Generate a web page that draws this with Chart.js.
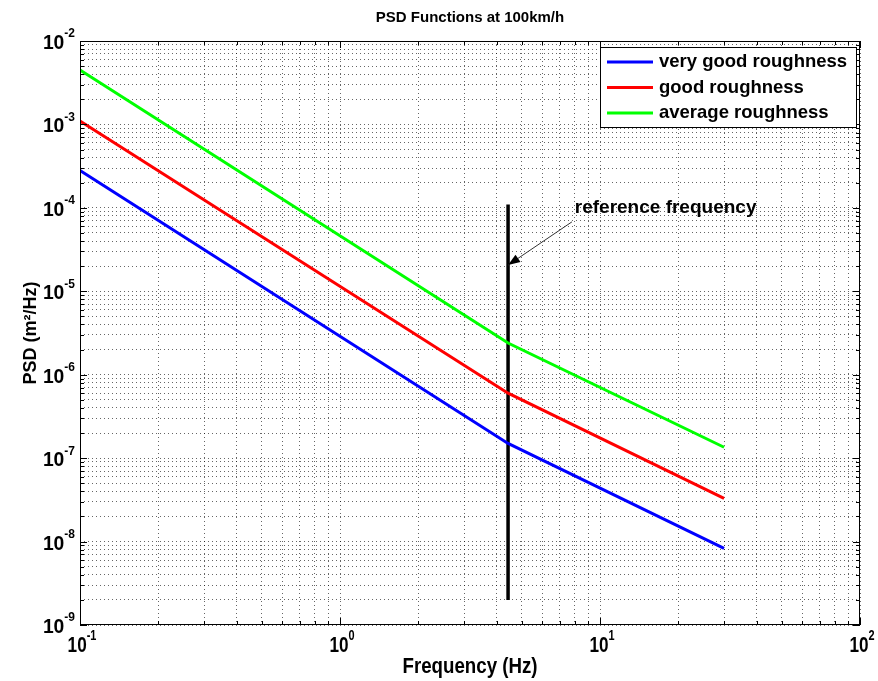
<!DOCTYPE html>
<html>
<head>
<meta charset="utf-8">
<script src="https://cdn.jsdelivr.net/npm/chart.js@4"></script>
<style>
  html, body { margin: 0; padding: 0; background: #fff; }
  #wrap { width: 878px; height: 681px; }
</style>
</head>
<body>
<div id="wrap"><canvas id="psdChart" width="878" height="681"></canvas></div>
<script>
// values
const freqs = [0.1, 4.43, 30];
const veryGood = [2.8e-4, 1.5e-7, 8.3e-9];
const good = [1.1e-3, 6.0e-7, 3.3e-8];
const average = [4.5e-3, 2.4e-6, 1.35e-7];

const seriesNames = ['very good roughness', 'good roughness', 'average roughness'];
const seriesColors = ['#0000ff', '#ff0000', '#00ff00'];

const refFreq = 4.43;
const refLineY = [2e-9, 1.1e-4];
const refLabel = 'reference frequency';
const arrowTip = [4.43, 2.06e-5];
const arrowTail = [7.8, 6.8e-5];
const refLabelPos = [8.0, 1.0e-4];

const xDecades = [-1, 0, 1, 2];
const yDecades = [-9, -8, -7, -6, -5, -4, -3, -2];

const chartTitle = 'PSD Functions at 100km/h';
const xTitle = 'Frequency (Hz)';
const yTitle = 'PSD (m²/Hz)';

const FONT = '"Liberation Sans", Arial, Helvetica, sans-serif';

function toPoints(xs, ys) {
    return xs.map((x, i) => ({ x: x, y: ys[i] }));
}

function logTicks(decades) {
    const ticks = [];
    decades.forEach((d, i) => {
        const base = Math.pow(10, d);
        if (i === decades.length - 1) {
            ticks.push({ value: base, major: true });
            return;
        }
        for (let m = 1; m <= 9; m++) {
            ticks.push({ value: m * base, major: m === 1 });
        }
    });
    return ticks;
}

// draws "10" with a raised exponent
function drawPower(ctx, exp, x, y, align, baseSize, expSize, squeeze) {
    const expText = String(exp);
    ctx.save();
    ctx.font = 'bold ' + baseSize + 'px ' + FONT;
    const baseW = ctx.measureText('10').width * squeeze;
    ctx.font = 'bold ' + expSize + 'px ' + FONT;
    const expW = ctx.measureText(expText).width * squeeze;
    const total = baseW + expW;
    let left = x;
    if (align === 'right') left = x - total;
    if (align === 'center') left = x - total / 2;
    ctx.fillStyle = '#000';
    ctx.textAlign = 'left';
    ctx.textBaseline = 'alphabetic';
    ctx.translate(left, y);
    ctx.scale(squeeze, 1);
    ctx.font = 'bold ' + baseSize + 'px ' + FONT;
    ctx.fillText('10', 0, 0);
    ctx.font = 'bold ' + expSize + 'px ' + FONT;
    ctx.fillText(expText, baseW / squeeze, -baseSize * 0.55);
    ctx.restore();
}

const decorations = {
    id: 'decorations',
    beforeDraw(chart) {
        const ctx = chart.ctx;
        ctx.save();
        ctx.fillStyle = '#fff';
        ctx.fillRect(0, 0, chart.width, chart.height);
        ctx.restore();
    },
    afterDraw(chart) {
        const ctx = chart.ctx;
        const area = chart.chartArea;
        const xs = chart.scales.x;
        const ys = chart.scales.y;

        // box + inward ticks on all sides
        ctx.save();
        ctx.strokeStyle = '#000';
        ctx.lineWidth = 1;
        ctx.strokeRect(area.left + 0.5, area.top + 0.5, area.right - area.left - 1, area.bottom - area.top - 1);
        ctx.beginPath();
        xs.ticks.forEach(t => {
            const px = Math.round(xs.getPixelForValue(t.value)) + 0.5;
            const len = t.major ? 7 : 4;
            ctx.moveTo(px, area.bottom);
            ctx.lineTo(px, area.bottom - len);
            ctx.moveTo(px, area.top);
            ctx.lineTo(px, area.top + len);
        });
        ys.ticks.forEach(t => {
            const py = Math.round(ys.getPixelForValue(t.value)) + 0.5;
            const len = t.major ? 7 : 4;
            ctx.moveTo(area.left, py);
            ctx.lineTo(area.left + len, py);
            ctx.moveTo(area.right, py);
            ctx.lineTo(area.right - len, py);
        });
        ctx.stroke();
        ctx.restore();

        // tick labels
        xDecades.forEach(d => {
            const px = xs.getPixelForValue(Math.pow(10, d));
            drawPower(ctx, d, px + 2, area.bottom + 27, 'center', 22, 14, 0.78);
        });
        yDecades.forEach(d => {
            const py = ys.getPixelForValue(Math.pow(10, d));
            drawPower(ctx, d, area.left - 5, py + 8, 'right', 21, 13, 0.92);
        });

        // titles
        ctx.save();
        ctx.fillStyle = '#000';
        ctx.textAlign = 'center';
        ctx.textBaseline = 'middle';
        ctx.font = 'bold 15px ' + FONT;
        ctx.fillText(chartTitle, (area.left + area.right) / 2, 18);
        ctx.save();
        ctx.translate((area.left + area.right) / 2, 667);
        ctx.scale(0.85, 1);
        ctx.font = 'bold 22px ' + FONT;
        ctx.fillText(xTitle, 0, 0);
        ctx.restore();
        ctx.save();
        ctx.translate(31, (area.top + area.bottom) / 2);
        ctx.rotate(-Math.PI / 2);
        ctx.font = 'bold 18px ' + FONT;
        ctx.fillText(yTitle, 0, 0);
        ctx.restore();
        ctx.restore();

        // reference frequency annotation
        const tipX = xs.getPixelForValue(arrowTip[0]);
        const tipY = ys.getPixelForValue(arrowTip[1]);
        const tailX = xs.getPixelForValue(arrowTail[0]);
        const tailY = ys.getPixelForValue(arrowTail[1]);
        ctx.save();
        ctx.strokeStyle = '#333';
        ctx.lineWidth = 1;
        ctx.beginPath();
        ctx.moveTo(tailX, tailY);
        ctx.lineTo(tipX, tipY);
        ctx.stroke();
        const ang = Math.atan2(tipY - tailY, tipX - tailX);
        const headLen = 12, headW = 4.5;
        const bx = tipX - headLen * Math.cos(ang);
        const by = tipY - headLen * Math.sin(ang);
        ctx.fillStyle = '#000';
        ctx.beginPath();
        ctx.moveTo(tipX, tipY);
        ctx.lineTo(bx + headW * Math.sin(ang), by - headW * Math.cos(ang));
        ctx.lineTo(bx - headW * Math.sin(ang), by + headW * Math.cos(ang));
        ctx.closePath();
        ctx.fill();
        ctx.font = 'bold 19px ' + FONT;
        ctx.textAlign = 'left';
        ctx.textBaseline = 'middle';
        ctx.fillText(refLabel, xs.getPixelForValue(refLabelPos[0]), ys.getPixelForValue(refLabelPos[1]));
        ctx.restore();

        // legend box in the top right corner
        const lgLeft = 600, lgTop = 47, lgRight = 857, lgBottom = 128;
        ctx.save();
        ctx.fillStyle = '#fff';
        ctx.fillRect(lgLeft, lgTop, lgRight - lgLeft, lgBottom - lgTop);
        ctx.strokeStyle = '#000';
        ctx.lineWidth = 1;
        ctx.strokeRect(lgLeft + 0.5, lgTop + 0.5, lgRight - lgLeft - 1, lgBottom - lgTop - 1);
        ctx.font = 'bold 18.5px ' + FONT;
        ctx.textAlign = 'left';
        ctx.textBaseline = 'middle';
        seriesNames.forEach((name, i) => {
            const rowY = 62 + i * 25.5;
            ctx.strokeStyle = seriesColors[i];
            ctx.lineWidth = 3;
            ctx.beginPath();
            ctx.moveTo(607, rowY);
            ctx.lineTo(653, rowY);
            ctx.stroke();
            ctx.fillStyle = '#000';
            ctx.fillText(name, 659, rowY);
        });
        ctx.restore();
    }
};

const gridOpts = {
    color: 'rgba(0, 0, 0, 0.6)',
    lineWidth: 1,
    drawTicks: false
};

new Chart(document.getElementById('psdChart'), {
    type: 'line',
    data: {
        datasets: [
            { label: seriesNames[0], data: toPoints(freqs, veryGood), borderColor: seriesColors[0] },
            { label: seriesNames[1], data: toPoints(freqs, good), borderColor: seriesColors[1] },
            { label: seriesNames[2], data: toPoints(freqs, average), borderColor: seriesColors[2] },
            { label: 'ref', data: toPoints([refFreq, refFreq], refLineY), borderColor: '#000', borderWidth: 3.5 }
        ]
    },
    options: {
        responsive: false,
        animation: false,
        devicePixelRatio: 1,
        elements: {
            point: { radius: 0, hoverRadius: 0 },
            line: { borderWidth: 3, tension: 0 }
        },
        layout: { padding: { left: 80, right: 18, top: 41, bottom: 56 } },
        plugins: {
            legend: { display: false },
            title: { display: false },
            tooltip: { enabled: false }
        },
        scales: {
            x: {
                type: 'logarithmic',
                min: 0.1,
                max: 100,
                afterBuildTicks: scale => { scale.ticks = logTicks(xDecades); },
                ticks: { display: false },
                grid: gridOpts,
                border: { display: false, dash: [1, 3] }
            },
            y: {
                type: 'logarithmic',
                min: 1e-9,
                max: 1e-2,
                afterBuildTicks: scale => { scale.ticks = logTicks(yDecades); },
                ticks: { display: false },
                grid: gridOpts,
                border: { display: false, dash: [1, 3] }
            }
        }
    },
    plugins: [decorations]
});
</script>
</body>
</html>
